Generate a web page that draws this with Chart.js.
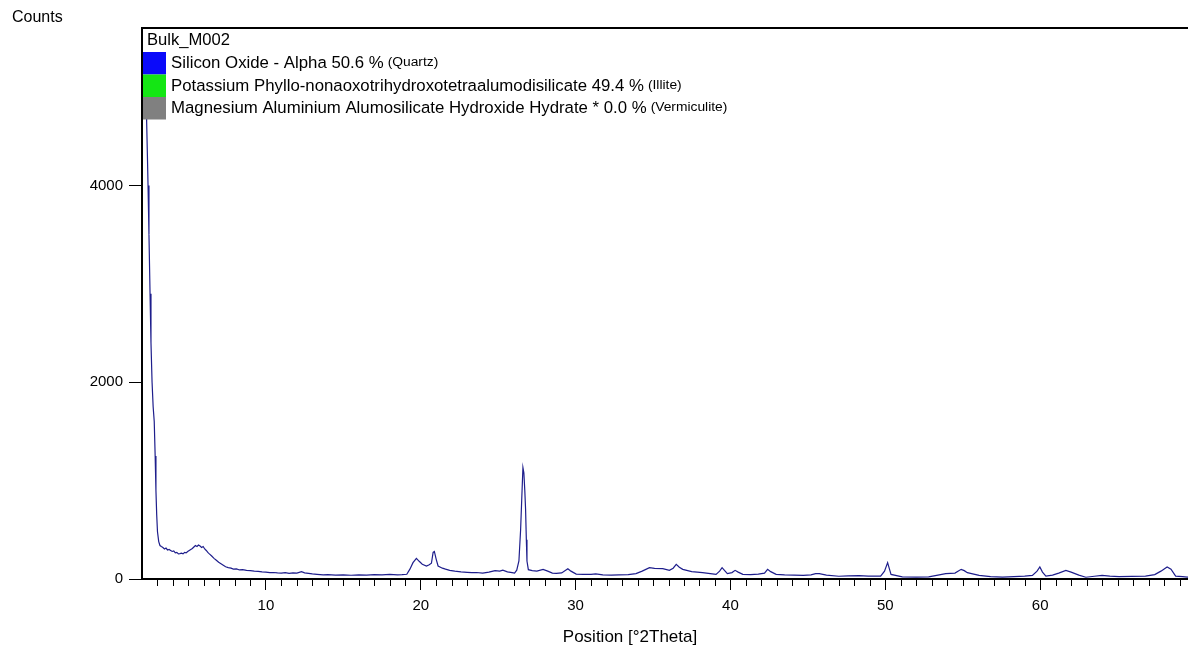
<!DOCTYPE html>
<html><head><meta charset="utf-8">
<script src="https://cdn.jsdelivr.net/npm/chart.js@4.4.0/dist/chart.umd.min.js"></script>
<style>html,body{margin:0;padding:0;overflow:hidden;background:#fff;width:1188px;height:648px}canvas{display:block}</style>
</head><body><canvas id="c" width="1200" height="648" style="width:1200px;height:648px"></canvas>
<script>
const positions = [2.27,2.30,2.35,2.39,2.45,2.52,2.58,2.65,2.72,2.79,2.85,2.90,2.95,3.00,3.08,3.16,3.25,3.35,3.45,3.55,3.65,3.75,3.85,3.95,4.05,4.15,4.25,4.35,4.45,4.55,4.65,4.75,4.85,4.95,5.05,5.15,5.25,5.35,5.45,5.55,5.65,5.75,5.85,5.95,6.05,6.15,6.25,6.35,6.50,6.65,6.80,6.95,7.10,7.25,7.40,7.57,7.75,7.90,8.10,8.30,8.50,8.75,9.00,9.25,9.50,9.75,10.00,10.26,10.50,10.75,11.00,11.25,11.50,11.75,12.00,12.30,12.50,12.75,13.00,13.30,13.70,14.00,14.50,15.00,15.50,16.00,16.50,17.00,17.50,18.00,18.50,18.80,19.10,19.30,19.50,19.72,19.90,20.10,20.37,20.55,20.69,20.80,20.88,21.00,21.12,21.40,21.60,21.87,22.20,22.60,23.00,23.30,23.60,24.00,24.40,24.80,25.10,25.30,25.60,25.90,26.06,26.20,26.34,26.45,26.52,26.60,26.66,26.72,26.77,26.82,26.86,26.95,27.20,27.50,27.90,28.20,28.50,28.75,29.10,29.50,29.70,30.04,30.50,31.00,31.30,31.76,32.30,32.80,33.40,33.90,34.30,34.77,35.10,35.63,36.06,36.30,36.50,36.70,36.92,37.50,38.20,38.70,39.07,39.30,39.46,39.60,39.80,40.10,40.30,40.50,40.80,41.30,41.80,42.20,42.40,42.60,42.95,43.50,44.10,44.70,45.20,45.50,45.74,46.20,47.00,47.60,48.30,48.90,49.70,49.95,50.15,50.27,50.37,51.10,52.00,52.80,53.40,53.90,54.50,54.90,55.10,55.30,56.06,56.80,57.57,58.30,59.00,59.50,59.80,59.98,60.15,60.37,60.80,61.20,61.66,62.00,62.50,62.95,63.50,64.00,64.50,65.10,65.90,66.80,67.40,67.80,68.20,68.45,68.75,69.20,69.50,70.00];
const counts = [4850,4650,4300,4000,3500,2900,2400,2000,1750,1600,1250,900,650,480,380,340,330,320,305,315,295,300,290,280,285,265,270,255,258,262,255,270,265,280,290,300,310,325,340,330,345,335,320,330,305,290,270,255,234,210,190,170,155,140,125,115,110,100,102,92,95,88,85,80,78,72,70,64,66,62,60,64,58,62,60,75,62,58,52,48,42,44,40,42,38,42,40,44,42,46,42,44,48,100,166,210,180,150,132,145,160,270,280,200,132,110,100,88,80,72,68,64,66,60,70,85,80,90,72,65,60,90,183,500,800,1133,1080,900,712,400,183,95,85,80,98,80,60,58,62,105,80,50,48,47,52,41,40,42,45,55,80,115,108,105,88,110,149,120,98,75,64,55,47,80,115,90,54,65,88,70,47,45,50,60,98,75,47,42,40,37,42,54,54,40,28,32,34,30,30,80,166,100,47,22,20,22,40,54,60,98,85,64,37,25,20,25,30,36,80,122,70,30,40,60,88,70,40,18,28,37,30,24,26,30,45,80,122,100,30,25,20,22];
const xTickValues = [10,20,30,40,50,60];
const xMinorTickValues = [3,4,5,6,7,8,9,11,12,13,14,15,16,17,18,19,21,22,23,24,25,26,27,28,29,31,32,33,34,35,36,37,38,39,41,42,43,44,45,46,47,48,49,51,52,53,54,55,56,57,58,59,61,62,63,64,65,66,67,68,69];
const yTickValues = [0,2000,4000];
const legendTitle = 'Bulk_M002';
const phaseNames = ['Silicon Oxide - Alpha 50.6 %','Potassium Phyllo-nonaoxotrihydroxotetraalumodisilicate 49.4 %','Magnesium Aluminium Alumosilicate Hydroxide Hydrate * 0.0 %'];
const phaseRefs = ['(Quartz)','(Illite)','(Vermiculite)'];
const phaseColors = ['#0a0afa','#14e614','#808080'];
const xTitle = 'Position [°2Theta]';
const yTitle = 'Counts';
const FONT = '"Liberation Sans", Arial, sans-serif';

const decor = {
  id:'decor',
  afterDraw(chart){
    const ctx = chart.ctx, a = chart.chartArea, xs = chart.scales.x;
    ctx.save();
    ctx.strokeStyle = '#000'; ctx.lineWidth = 2;
    ctx.beginPath(); ctx.moveTo(a.left - 1, a.top); ctx.lineTo(chart.width, a.top); ctx.stroke();
    ctx.lineWidth = 1;
    ctx.beginPath();
    xMinorTickValues.forEach(v => {
      const px = Math.round(xs.getPixelForValue(v)) + 0.5;
      ctx.moveTo(px, a.bottom + 1); ctx.lineTo(px, a.bottom + 7);
    });
    ctx.stroke();
    ctx.fillStyle = '#000';
    ctx.textBaseline = 'alphabetic';
    ctx.font = '16px ' + FONT; ctx.textAlign = 'left';
    ctx.fillText(yTitle, 12, 22);
    ctx.font = '17px ' + FONT; ctx.textAlign = 'center';
    ctx.fillText(xTitle, 630, 642);
    ctx.textAlign = 'left';
    ctx.font = '16.6px ' + FONT;
    ctx.fillText(legendTitle, 147, 45);
    phaseNames.forEach((name, i) => {
      const top = 52 + i * 22.5;
      ctx.fillStyle = phaseColors[i];
      ctx.fillRect(a.left + 1, top, 23, 22.5);
      ctx.fillStyle = '#000';
      ctx.font = '16.8px ' + FONT;
      const base = top + 16;
      ctx.fillText(name, 171, base);
      const w = ctx.measureText(name).width;
      ctx.save();
      ctx.translate(171 + w + 4, base - 2);
      ctx.scale(1.15, 1);
      ctx.font = '12px ' + FONT;
      ctx.fillText(phaseRefs[i], 0, 0);
      ctx.restore();
    });
    ctx.restore();
  }
};

new Chart(document.getElementById('c').getContext('2d'), {
  type: 'scatter',
  data: { datasets: [{
    data: positions.map((x, i) => ({ x: x, y: counts[i] })),
    showLine: true, borderColor: '#1e1e8c', borderWidth: 1.2, pointRadius: 0, tension: 0
  }]},
  options: {
    responsive: false, animation: false,
    layout: { padding: { top: 28, right: 5, left: 0, bottom: 0 } },
    plugins: { legend: { display: false }, tooltip: { enabled: false } },
    scales: {
      x: {
        type: 'linear', min: 2, max: 70,
        afterFit(s){ s.height = 69; },
        afterBuildTicks(s){ s.ticks = xTickValues.map(v => ({ value: v })); },
        grid: { drawOnChartArea: false, drawTicks: true, tickLength: 11, tickColor: '#000', tickWidth: 1 },
        border: { display: true, color: '#000', width: 2 },
        ticks: { color: '#000', font: { family: FONT, size: 15 }, padding: 7, maxRotation: 0, autoSkip: false, callback: v => String(v) }
      },
      y: {
        type: 'linear', min: 0, max: 5600,
        afterFit(s){ s.width = 142; },
        afterBuildTicks(s){ s.ticks = yTickValues.map(v => ({ value: v })); },
        grid: { drawOnChartArea: false, drawTicks: true, tickLength: 13, tickColor: '#000', tickWidth: 1 },
        border: { display: true, color: '#000', width: 2 },
        ticks: { color: '#000', font: { family: FONT, size: 15 }, padding: 6, autoSkip: false, callback: v => String(v) }
      }
    }
  },
  plugins: [decor]
});
</script></body></html>
